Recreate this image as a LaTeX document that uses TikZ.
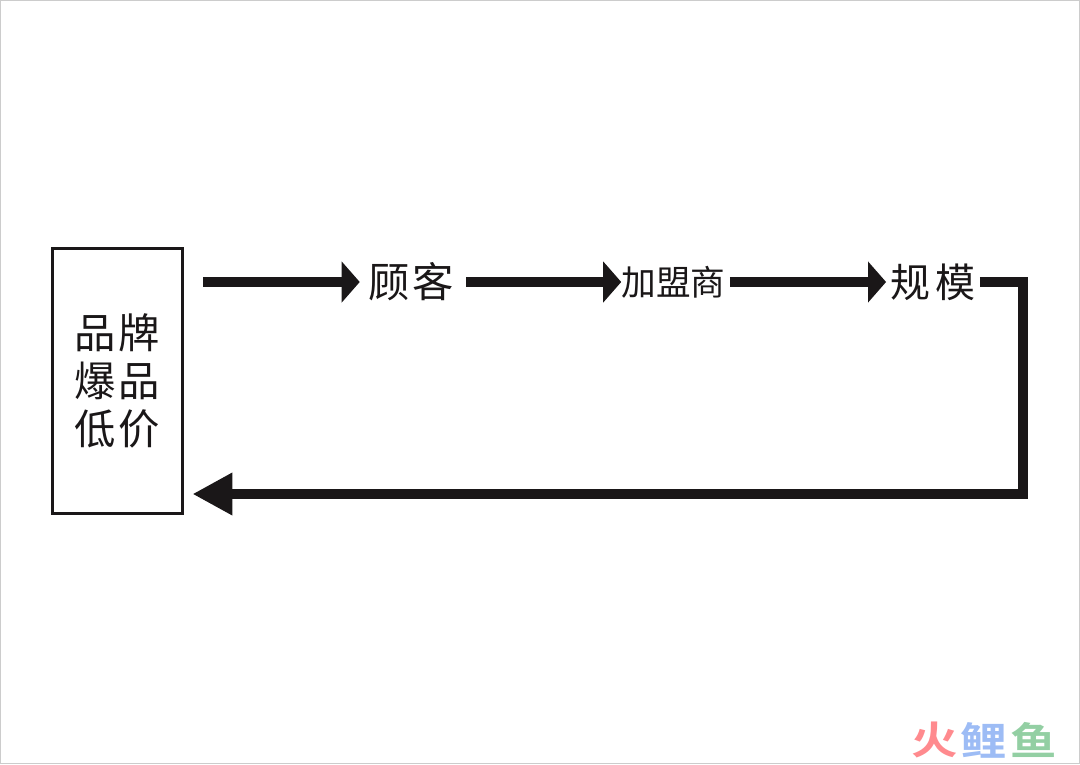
\documentclass[tikz,border=0pt]{standalone}
\usepackage{fontspec}
\usepackage{tikz}
\usetikzlibrary{arrows.meta}
\newfontfamily\cjk{Noto Sans CJK SC}
\newfontfamily\cjkbold[FakeStretch=1.2]{Noto Sans CJK SC Bold}
\definecolor{inkblack}{HTML}{1A1718}
\definecolor{markred}{HTML}{FF8A8E}
\definecolor{markblue}{HTML}{9DBCF5}
\definecolor{markgreen}{HTML}{93CFA3}

\begin{document}
\begin{tikzpicture}[x=0.75pt,y=-0.75pt,font=\cjk,text=inkblack,
brandbox/.style={draw=inkblack, line width=2.4pt, minimum width=98pt, minimum height=199pt, inner sep=0pt, align=center, font=\cjk\fontsize{31}{36}\selectfont},
stage/.style={inner ysep=0pt, font=\cjk\fontsize{30}{36}\selectfont},
flowline/.style={draw=inkblack, line width=7.5pt},
flowarrow/.style={flowline, -{Triangle[length=13.5pt,width=30pt]}},
backarrow/.style={flowline, -{Triangle[length=30pt,width=30pt]}},
logomark/.style={inner sep=0pt, font=\cjkbold\fontsize{29}{36}\selectfont}]
\useasboundingbox (0,0) rectangle (1080,764);
\draw[black!20, line width=0.75pt] (0.5,0.5) rectangle (1079.5,763.5);
\node[brandbox] (brand) at (117.5,381) {品\hspace{2pt}牌\\爆\hspace{2pt}品\\低\hspace{2pt}价};
\coordinate (start) at (203,282);
\node[stage, inner xsep=6pt, font=\cjk\fontsize{31}{36}\selectfont] (customer) at (411,282) {顾\hspace{2.5pt}客};
\node[stage, inner xsep=0pt, font=\cjk\fontsize{26}{30}\selectfont] (dealer) at (673.5,282) {加盟商};
\node[stage, inner xsep=3pt] (scale) at (933,282) {规\hspace{4pt}模};
\coordinate (corner) at (1023,494);
\draw[flowarrow] (start) -- (customer);
\draw[flowarrow, shorten <=3pt] (customer) -- (dealer);
\draw[flowarrow, shorten <=3pt] (dealer) -- (scale);
\draw[backarrow, shorten >=6pt] (scale) -| (corner) -- (brand.east |- corner);
\node[logomark, text=markred] (huo) at (935,740) {火};
\node[logomark, text=markblue] (li) at (984,740) {鲤};
\node[logomark, text=markgreen] (yu) at (1034,740) {鱼};
\end{tikzpicture}
\end{document}
